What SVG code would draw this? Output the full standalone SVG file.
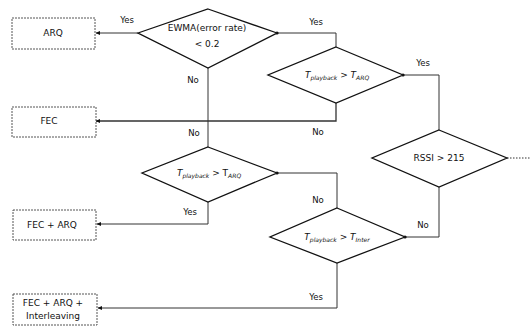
<svg xmlns="http://www.w3.org/2000/svg" width="530" height="329" viewBox="0 0 530 329">
<style>
.box{fill:#fff;stroke:#555;stroke-width:1;stroke-dasharray:2,1}
.dia{fill:#fff;stroke:#111;stroke-width:1.3}
.t{font-family:"DejaVu Sans",sans-serif;font-size:9px;fill:#111}
.ti{font-family:"DejaVu Sans",sans-serif;font-size:9px;fill:#111;font-style:italic}
.sub{font-size:6px}
.lbl{font-family:"DejaVu Sans",sans-serif;font-size:8.5px;fill:#111}
.c{fill:none;stroke:#333;stroke-width:1}
</style>
<defs>
<marker id="arr" markerWidth="5" markerHeight="5" refX="4" refY="2.5" orient="auto" markerUnits="userSpaceOnUse">
<path d="M0,0.5 L4.5,2.5 L0,4.5 Z" fill="#111"/>
</marker>
<marker id="dot" markerWidth="4" markerHeight="4" refX="2" refY="2" markerUnits="userSpaceOnUse">
<circle cx="2" cy="2" r="1.6" fill="#111"/>
</marker>
</defs>
<g id="connectors">
<path class="c" d="M138,33 L96,33" marker-end="url(#arr)"/>
<path class="c" d="M277,33 L336,33 L336,47" marker-start="url(#dot)"/>
<path class="c" d="M336,103 L336,121 L96,121" marker-end="url(#arr)" style="stroke-width:1.3"/>
<path class="c" d="M208,68 L208,147"/>
<path class="c" d="M403,75 L439,75 L439,130" marker-start="url(#dot)"/>
<path class="c" d="M208,202 L208,224 L97,224" marker-end="url(#arr)"/>
<path class="c" d="M277,173 L337,173 L337,208" marker-start="url(#dot)"/>
<path class="c" d="M439,187 L439,237 L405,237" marker-end="url(#dot)"/>
<path class="c" d="M337,263 L337,308 L98,308" marker-end="url(#arr)"/>
<path class="c" d="M507,158 L530,158" style="stroke-dasharray:1.5,1.5"/>
</g>
<g id="n-arq"><rect class="box" x="12" y="18" width="83" height="31"/><text class="t" x="53" y="36" text-anchor="middle">ARQ</text></g>
<g id="n-fec"><rect class="box" x="12" y="107" width="84" height="30"/><text class="t" x="49" y="124" text-anchor="middle">FEC</text></g>
<g id="n-fecarq"><rect class="box" x="13" y="210" width="83" height="30"/><text class="t" x="52" y="228" text-anchor="middle">FEC + ARQ</text></g>
<g id="n-fecarqint"><rect class="box" x="13" y="294" width="84" height="31"/><text class="t" x="53" y="306" text-anchor="middle">FEC + ARQ +</text><text class="t" x="53" y="319" text-anchor="middle">Interleaving</text></g>
<g id="d-ewma"><polygon class="dia" points="208,9 277,33 208,68 138,33"/><text class="t" x="207" y="31" text-anchor="middle">EWMA(error rate)</text><text class="t" x="207" y="47" text-anchor="middle">&lt; 0.2</text></g>
<g id="d-tarq1"><polygon class="dia" points="336,47 403,75 336,103 268,75"/><text class="ti" x="337" y="78" text-anchor="middle">T<tspan class="sub" dy="2">playback</tspan><tspan dy="-2"> &gt; T</tspan><tspan class="sub" dy="2">ARQ</tspan></text></g>
<g id="d-tarq2"><polygon class="dia" points="208,147 277,173 208,202 142,173"/><text class="ti" x="209" y="176" text-anchor="middle">T<tspan class="sub" dy="2">playback</tspan><tspan dy="-2" style="font-style:normal"> &gt; T</tspan><tspan class="sub" dy="2">ARQ</tspan></text></g>
<g id="d-tinter"><polygon class="dia" points="337,208 405,237 337,263 270,237"/><text class="ti" x="337" y="240" text-anchor="middle">T<tspan class="sub" dy="2">playback</tspan><tspan dy="-2"> &gt; T</tspan><tspan class="sub" dy="2">Inter</tspan></text></g>
<g id="d-rssi"><polygon class="dia" points="439,130 507,158 439,187 372,158"/><text class="t" x="439" y="161" text-anchor="middle">RSSI &gt; 215</text></g>
<g id="labels">
<text class="lbl" x="127" y="23" text-anchor="middle">Yes</text>
<text class="lbl" x="316" y="25" text-anchor="middle">Yes</text>
<text class="lbl" x="193" y="83" text-anchor="middle">No</text>
<text class="lbl" x="423" y="66" text-anchor="middle">Yes</text>
<text class="lbl" x="318" y="135" text-anchor="middle">No</text>
<text class="lbl" x="194" y="136" text-anchor="middle">No</text>
<text class="lbl" x="190" y="215" text-anchor="middle">Yes</text>
<text class="lbl" x="318" y="203" text-anchor="middle">No</text>
<text class="lbl" x="423" y="228" text-anchor="middle">No</text>
<text class="lbl" x="316" y="300" text-anchor="middle">Yes</text>
</g>
</svg>
